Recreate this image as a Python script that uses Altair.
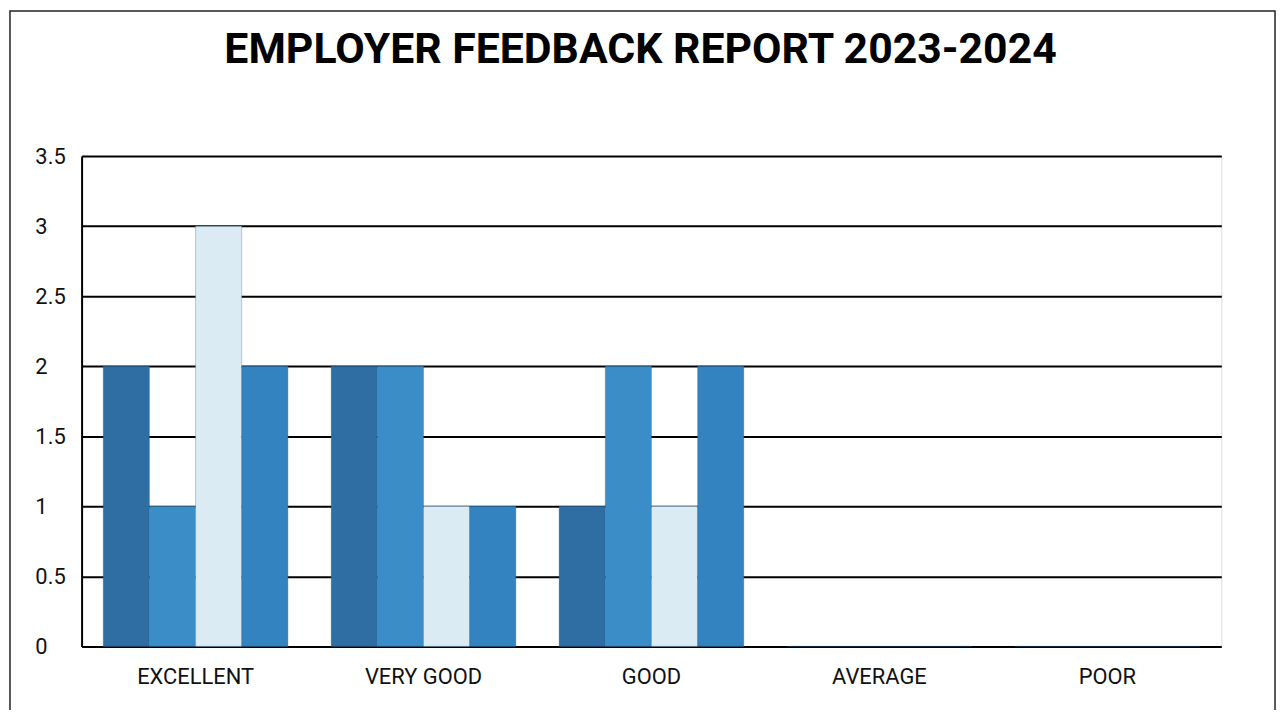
import altair as alt
import pandas as pd

title_text = "EMPLOYER FEEDBACK REPORT 2023-2024"
categories = ["EXCELLENT", "VERY GOOD", "GOOD", "AVERAGE", "POOR"]
series_names = ["Series 1", "Series 2", "Series 3", "Series 4"]
series_1 = [2, 2, 1, 0, 0]
series_2 = [1, 2, 2, 0, 0]
series_3 = [3, 1, 1, 0, 0]
series_4 = [2, 1, 2, 0, 0]
colors = ["#2E6EA2", "#3A8DC6", "#DAEBF3", "#3383C1"]
y_ticks = [0, 0.5, 1, 1.5, 2, 2.5, 3, 3.5]

rows = []
for name, vals in zip(series_names, [series_1, series_2, series_3, series_4]):
    for c, v in zip(categories, vals):
        rows.append({"category": c, "series": name, "value": v})
df = pd.DataFrame(rows)

W, H = 1146, 493
FONT = "Roboto"

bars = alt.Chart(df).mark_bar(stroke="#1F5A8A", strokeWidth=0.6, strokeOpacity=0.5).encode(
    x=alt.X("category:N", sort=categories, title=None,
            scale=alt.Scale(paddingInner=0.19, paddingOuter=0.095),
            axis=alt.Axis(labelAngle=0, domain=False, ticks=False, labelPadding=20,
                          labelFontSize=22, labelFont=FONT, labelColor="#111", grid=False)),
    xOffset=alt.XOffset("series:N", sort=series_names,
                        scale=alt.Scale(paddingInner=0, paddingOuter=0)),
    y=alt.Y("value:Q", title=None,
            scale=alt.Scale(domain=[0, 3.5], nice=False),
            axis=alt.Axis(values=y_ticks, format="~g", ticks=False, labelAlign="left",
                          labelPadding=47, labelFontSize=22, labelFont=FONT, labelColor="#111",
                          domain=True, domainColor="#000", domainWidth=2,
                          grid=True, gridColor="#000", gridWidth=2, gridOpacity=1)),
    color=alt.Color("series:N", sort=series_names,
                    scale=alt.Scale(domain=series_names, range=colors), legend=None),
)

frame = alt.Chart(alt.Data(values=[{"f": 1}])).mark_rect(
    fillOpacity=0, stroke="#222", strokeWidth=1.5
).encode(
    x=alt.value(-72), x2=alt.value(1200), y=alt.value(-146), y2=alt.value(580)
)

title = alt.Chart(alt.Data(values=[{"t": title_text}])).mark_text(
    font=FONT, fontSize=43, fontWeight="bold", color="#000",
    align="center", baseline="alphabetic"
).encode(
    text="t:N", x=alt.value(562), y=alt.value(-94)
)

chart = alt.layer(frame, title, bars).properties(
    width=W, height=H,
    padding={"left": 74, "top": 147, "right": 58, "bottom": 62},
    autosize=alt.AutoSizeParams(type="none"),
).configure_view(stroke=None).configure(background="white")

chart.save("out.html", embed_options={"renderer": "svg", "actions": False})
